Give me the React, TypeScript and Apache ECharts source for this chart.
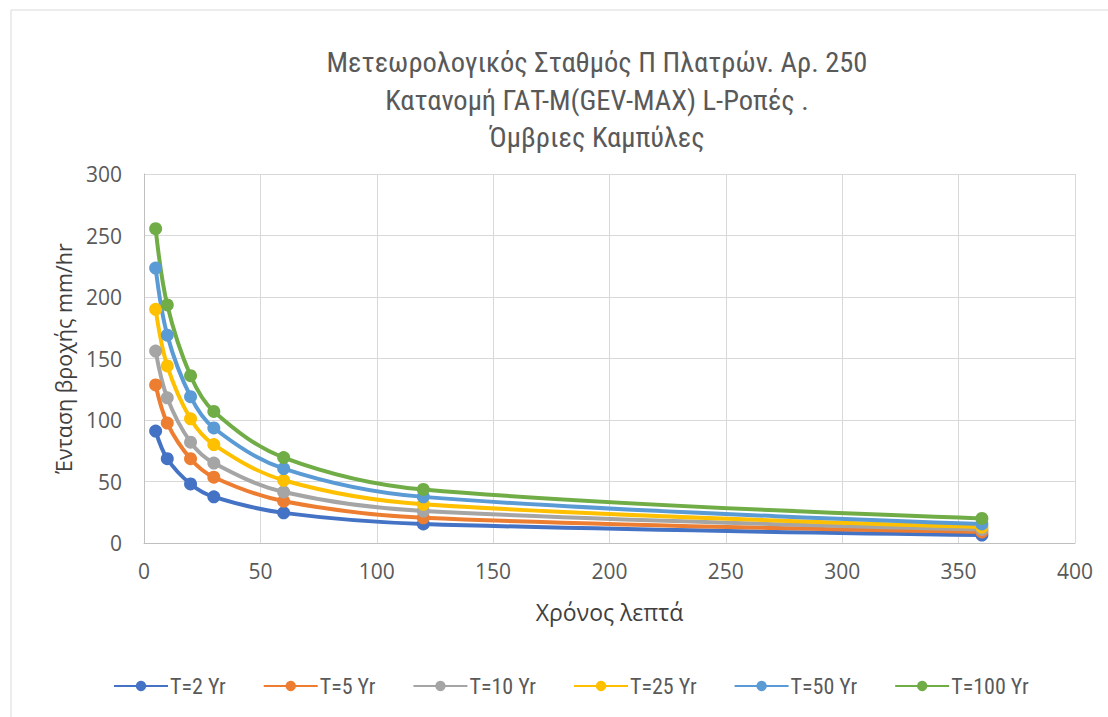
import React, { useEffect, useRef } from "react";
import * as echarts from "echarts";

const durations = [5, 10, 20, 30, 60, 120, 360];
const seriesNames = ["T=2 Yr", "T=5 Yr", "T=10 Yr", "T=25 Yr", "T=50 Yr", "T=100 Yr"];
const t2 = [91, 68.5, 48, 37.5, 24.5, 15.5, 6.5];
const t5 = [128.5, 97.5, 68.5, 53.5, 34, 20.5, 9];
const t10 = [156, 118, 82, 65, 41.5, 26, 11];
const t25 = [190, 144, 101, 80, 51, 31.5, 13];
const t50 = [223.5, 169, 119, 93.5, 60.5, 37.5, 15.5];
const t100 = [255.5, 193.5, 136, 107, 69.5, 43.5, 20];
const colors = ["#4472C4", "#ED7D31", "#A5A5A5", "#FFC000", "#5B9BD5", "#70AD47"];
const titleLines = [
  "Μετεωρολογικός Σταθμός Π Πλατρών. Αρ. 250",
  "Κατανομή ΓΑΤ-Μ(GEV-MAX) L-Ροπές .",
  "Όμβριες Καμπύλες",
];

const narrow = "Liberation Sans Narrow, Arial Narrow, Roboto Condensed, Roboto, Liberation Sans";

export default function App() {
  const ref = useRef<HTMLDivElement>(null);
  useEffect(() => {
    const chart = echarts.init(ref.current!, null, { renderer: "svg" });
    const all = [t2, t5, t10, t25, t50, t100];
    chart.setOption({
      animation: false,
      backgroundColor: "#ffffff",
      textStyle: { fontFamily: "Open Sans" },
      graphic: [
        {
          type: "rect",
          shape: { x: 11, y: 10, width: 1120, height: 730 },
          style: { fill: "none", stroke: "#d9d9d9", lineWidth: 1 },
          silent: true,
        },
      ],
      title: {
        text: titleLines.join("\n"),
        left: 592,
        top: 39,
        textAlign: "center",
        textStyle: {
          fontFamily: narrow,
          fontSize: 28.5,
          fontWeight: "normal",
          color: "#595959",
          lineHeight: 37.5,
        },
      },
      legend: {
        bottom: 15,
        left: 108,
        itemGap: 37,
        itemWidth: 54,
        itemHeight: 13,
        data: seriesNames,
        textStyle: {
          fontFamily: narrow,
          fontSize: 22,
          color: "#595959",
          padding: [0, 0, 0, -3],
        },
      },
      grid: { left: 144, right: 33, top: 174, bottom: 174 },
      xAxis: {
        type: "value",
        min: 0,
        max: 400,
        interval: 50,
        name: "Χρόνος λεπτά",
        nameLocation: "middle",
        nameGap: 57,
        nameTextStyle: { fontFamily: "Open Sans", fontSize: 23, color: "#404040" },
        axisLine: { show: true, lineStyle: { color: "#bfbfbf", width: 1 } },
        axisTick: { show: false },
        axisLabel: { fontFamily: "Open Sans", fontSize: 21, color: "#595959", margin: 17 },
        splitLine: { show: true, lineStyle: { color: "#d9d9d9", width: 1 } },
      },
      yAxis: {
        type: "value",
        min: 0,
        max: 300,
        interval: 50,
        name: "Ένταση βροχής mm/hr",
        nameLocation: "middle",
        nameGap: 70,
        nameTextStyle: { fontFamily: "Open Sans", fontSize: 21.5, color: "#404040" },
        axisLine: { show: true, lineStyle: { color: "#bfbfbf", width: 1 } },
        axisTick: { show: false },
        axisLabel: { fontFamily: "Open Sans", fontSize: 21, color: "#595959", margin: 22 },
        splitLine: { show: true, lineStyle: { color: "#d9d9d9", width: 1 } },
      },
      series: seriesNames.map((name, i) => ({
        name,
        type: "line",
        smooth: 0.35,
        symbol: "circle",
        symbolSize: 13,
        itemStyle: { color: colors[i] },
        lineStyle: { color: colors[i], width: 4 },
        data: durations.map((d, j) => [d, all[i][j]]),
      })),
    });
    return () => chart.dispose();
  }, []);
  return (
    <div
      ref={ref}
      style={{ position: "fixed", left: 0, top: 0, width: 1108, height: 717 }}
    />
  );
}
